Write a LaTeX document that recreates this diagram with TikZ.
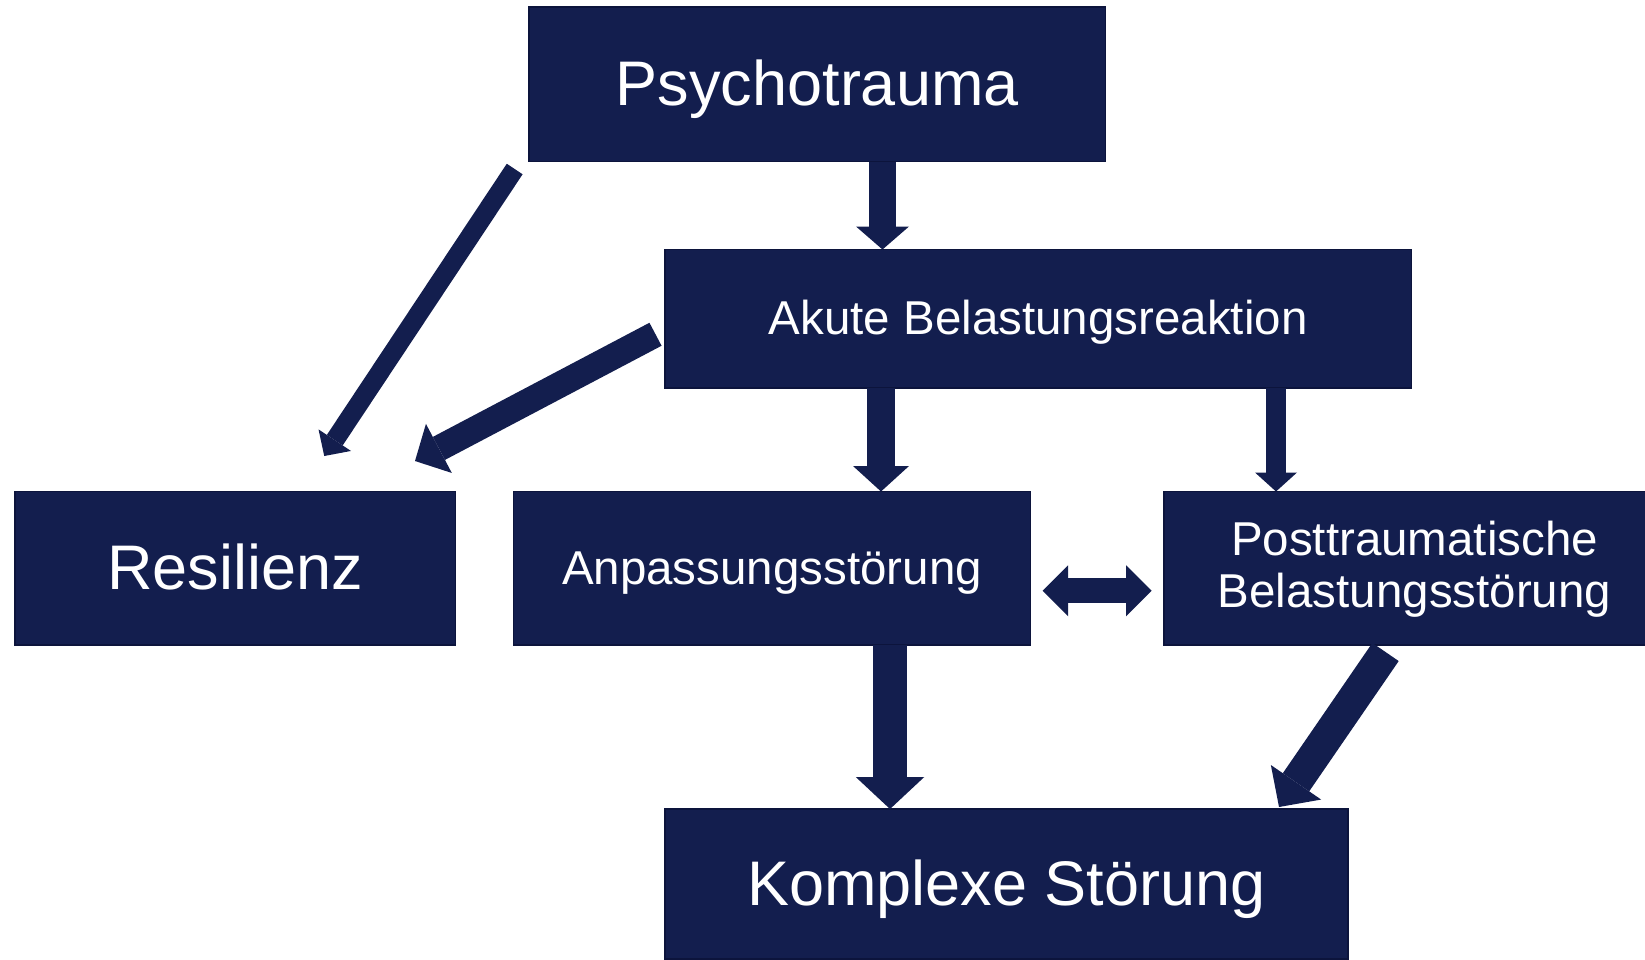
\documentclass[tikz,border=0pt]{standalone}
\usepackage{fontspec}
\setmainfont{Liberation Sans}
\usetikzlibrary{arrows.meta}
\definecolor{navy}{RGB}{19,30,78}
\definecolor{navyedge}{RGB}{12,20,60}
\begin{document}
\begin{tikzpicture}[x=1pt,y=-1pt,
  box/.style={fill=navy, draw=navyedge, line width=1.5pt, inner sep=0pt, outer sep=0pt, text=white,
    font=\fontsize{47.5}{51.6}\selectfont},
  big/.style={font=\fontsize{63}{70}\selectfont, text height=45pt, text depth=3pt},
  small/.style={text height=34pt, text depth=2pt},
  flow/.style={draw=navy, line cap=butt, line join=miter}]
\useasboundingbox (0,0) rectangle (1645,959);
% boxes
\node[box,big,minimum width=576.5pt,minimum height=154.5pt] (psy) at (817.25,84.25) {Psychotrauma};
\node[box,small,minimum width=746.5pt,minimum height=138.5pt] (akut) at (1038.25,318.75) {Akute Belastungsreaktion};
\node[box,big,minimum width=440.5pt,minimum height=153.5pt] (res) at (235.25,568.25) {Resilienz};
\node[box,small,minimum width=517pt,minimum height=153.5pt] (anp) at (772,568.25) {Anpassungsstörung};
\node[box,align=center,minimum width=501pt,minimum height=153.5pt,text depth=8pt] (ptbs) at (1414.5,568.25) {Posttraumatische\\Belastungsstörung};
\node[box,big,minimum width=683pt,minimum height=150pt] (kom) at (1006.5,884) {Komplexe Störung};
% arrows
\draw[flow, line width=27pt, -{Triangle[width=53pt,length=23pt,line width=0pt]}]
  ([shift={(65.25,0)}]psy.south) -- ([shift={(-155.75,0)}]akut.north);
\draw[flow, line width=28pt, -{Triangle[width=56pt,length=25.5pt,line width=0pt]}]
  ([shift={(-157.25,0)}]akut.south) -- ([shift={(109,0)}]anp.north);
\draw[flow, line width=20pt, -{Triangle[width=42pt,length=19pt,line width=0pt]}]
  ([shift={(237.75,0)}]akut.south) -- ([shift={(-138.5,0)}]ptbs.north);
\draw[flow, line width=33.5pt, -{Triangle[width=68.5pt,length=32pt,line width=0pt]}]
  ([shift={(118,0)}]anp.south) -- ([shift={(-116.5,0)}]kom.north);
\draw[flow, line width=32pt, -{Triangle[width=61pt,length=30pt,line width=0pt]}]
  ([shift={(-29,7)}]ptbs.south) -- ([shift={(-69,-2)}]kom.north east);
\draw[flow, line width=19pt, -{Triangle[width=39pt,length=19pt,line width=0pt]}]
  ([shift={(-14.3,7.5)}]psy.south west) -- ([shift={(89,-35.5)}]res.north);
\draw[flow, line width=26pt, -{Triangle[width=55.5pt,length=27pt,line width=0pt]}]
  ([shift={(-9.5,15.5)}]akut.west) -- ([shift={(-40.5,-30.5)}]res.north east);
\draw[flow, line width=25pt, {Triangle[width=51pt,length=25.5pt,line width=0pt]}-{Triangle[width=51pt,length=25.5pt,line width=0pt]}]
  ([shift={(12.2,22.5)}]anp.east) -- ([shift={(-12.3,22.5)}]ptbs.west);
\end{tikzpicture}
\end{document}
